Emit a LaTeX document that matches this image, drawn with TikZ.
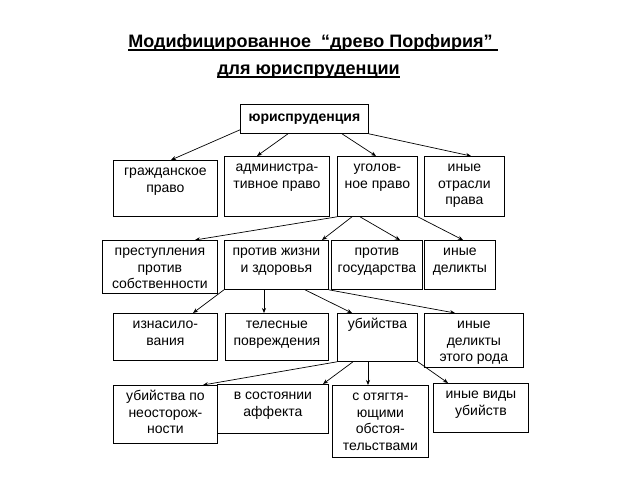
\documentclass[tikz,border=0pt]{standalone}
\usepackage{fontspec}
\setmainfont{Liberation Sans}
\usetikzlibrary{arrows.meta}
\tikzset{
 box/.style={draw=black, line width=0.8pt, fill=white, inner sep=0pt, anchor=north west},
 boxtext/.style={anchor=north, inner sep=0pt, align=center, font=\fontsize{14}{16.5}\selectfont},
 roottext/.style={inner sep=0pt, font=\bfseries\fontsize{14}{16.5}\selectfont},
 conn/.style={draw=black, line width=0.7pt, -{Stealth[length=5pt,width=4pt]}},
 ttl/.style={anchor=base, inner sep=0pt, font=\bfseries\fontsize{18}{21}\selectfont}
}
\newsavebox\ulbox
\newcommand\myul[1]{\sbox\ulbox{#1}\rlap{\rule[-3.5pt]{\wd\ulbox}{1.3pt}}\usebox\ulbox}
\newcommand\tbox[6]{%
 \node[box, minimum width={(#4-#2)*1pt}, minimum height={(#5-#3)*1pt}] (#1) at (#2,#3) {};
 \node[boxtext] (#1t) at ([yshift=-4.5pt]#1.north) {\rule{0pt}{11pt}#6};
}
\begin{document}
\begin{tikzpicture}[x=1pt,y=-1pt]
\fill[white] (0,0) rectangle (640,480);
\useasboundingbox (0,0) rectangle (640,480);
% title
\node[ttl] (t1) at (313,47) {\myul{Модифицированное\ \ “древо Порфирия”\ }};
\node[ttl] (t2) at (308.5,74) {\myul{для юриспруденции}};
% root
\node[box, minimum width=128pt, minimum height=29pt] (root) at (240,104) {};
\node[roottext] (roott) at (root.center) {юриспруденция};
% row 1
\tbox{gp}{113}{160}{217}{216}{гражданское\\право}
\tbox{adm}{224}{156}{329}{216}{администра-\\тивное право}
\tbox{ug}{337}{156}{417}{216}{уголов-\\ное право}
\tbox{oth}{424}{156}{504}{216}{иные\\отрасли\\права}
% row 2
\tbox{prop}{102}{240}{217}{293}{преступления\\против\\собственности}
\tbox{life}{224}{240}{328}{289}{против жизни\\и здоровья}
\tbox{state}{331}{240}{422}{289}{против\\государства}
\tbox{odel}{424}{240}{495}{289}{иные\\деликты}
% row 3
\tbox{rape}{113}{313}{217}{360}{изнасило-\\вания}
\tbox{bod}{225}{313}{328}{360}{телесные\\повреждения}
\tbox{mur}{337}{313}{417}{361}{убийства}
\tbox{orod}{424}{313}{523}{367}{иные\\деликты\\этого рода}
% row 4
\tbox{aff}{217}{384}{328}{433}{в состоянии\\аффекта}
\tbox{neo}{113}{385}{217}{443}{убийства по\\неосторож-\\ности}
\tbox{agg}{332}{385}{428}{457}{с отягтя-\\ющими\\обстоя-\\тельствами}
\tbox{oth2}{433}{383}{528}{432}{иные виды\\убийств}
% connectors
\draw[conn] ([yshift=4pt]root.south west) -- ([xshift=58pt]gp.north west);
\draw[conn] ([xshift=48pt]root.south west) -- ([xshift=33pt]adm.north west);
\draw[conn] ([xshift=102pt]root.south west) -- ([xshift=39pt]ug.north west);
\draw[conn] (root.south east) -- ([xshift=47pt]oth.north west);
\draw[conn] (ug.south west) -- ([xshift=93pt]prop.north west);
\draw[conn] ([xshift=15pt]ug.south west) -- ([xshift=98pt]life.north west);
\draw[conn] ([xshift=23pt]ug.south west) -- ([xshift=69pt]state.north west);
\draw[conn] (ug.south east) -- ([xshift=39pt]odel.north west);
\draw[conn] (life.south west) -- ([xshift=80pt]rape.north west);
\draw[conn] ([xshift=40pt]life.south west) -- ([xshift=39pt]bod.north west);
\draw[conn] ([xshift=81pt]life.south west) -- ([xshift=15pt]mur.north west);
\draw[conn] (life.south east) -- ([xshift=31pt]orod.north west);
\draw[conn] (mur.south west) -- ([xshift=90pt]neo.north west);
\draw[conn] ([xshift=16pt]mur.south west) -- ([xshift=106pt]aff.north west);
\draw[conn] ([xshift=31pt]mur.south west) -- ([xshift=36pt]agg.north west);
\draw[conn] (mur.south east) -- ([xshift=15pt]oth2.north west);
\end{tikzpicture}
\end{document}
